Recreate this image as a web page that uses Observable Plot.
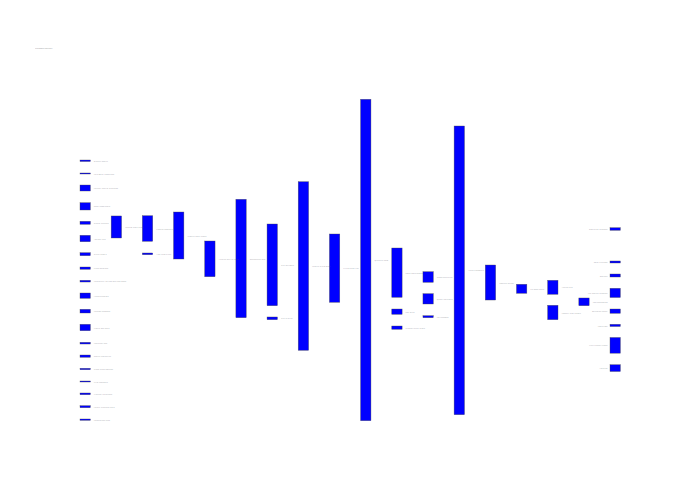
<!DOCTYPE html>
<html>
<head>
<meta charset="utf-8">
<script src="https://cdn.jsdelivr.net/npm/d3@7"></script>
<script src="https://cdn.jsdelivr.net/npm/@observablehq/plot@0.6"></script>
<style>
  html, body { margin: 0; padding: 0; background: #fff; }
  #wrap { position: relative; width: 700px; height: 500px; }
  #title { position: absolute; left: 35px; top: 47px; font: 2.1px "Open Sans", sans-serif; color: #666; opacity: 0.7; white-space: nowrap; }
</style>
</head>
<body>
<div id="wrap">
  <div id="title">Customer journey</div>
  <div id="chart"></div>
</div>
<script>
// Sankey nodes: column index, top and bottom (flow units, 0–100), label
const nodeCol = [
  0,0,0,0,0,0,0,0,0,0,0,0,0,0,0,0,0,0,0,
  1,
  2,2,
  3,
  4,
  5,
  6,6,
  7,
  8,
  9,
  10,10,10,
  11,11,11,
  12,
  13,
  14,
  15,15,
  16,
  17,17,17,17,17,17,17,17
];
const nodeTop = [
  18.89,22.93,26.67,32.17,37.96,42.32,47.73,52.18,56.32,60.27,65.34,70.01,75.61,79.56,83.70,87.65,91.38,95.33,99.47,
  36.30,
  36.22,47.82,
  35.07,
  44.09,
  31.11,
  38.80,67.73,
  25.64,
  41.91,
  0,
  46.27,65.25,70.54,
  53.64,60.48,67.33,
  8.31,
  51.56,
  57.56,
  56.32,64.10,
  61.82,
  39.95,50.31,54.36,58.81,65.25,70.01,74.11,82.58
];
const nodeBottom = [
  19.35,23.24,28.53,34.44,38.89,44.31,48.66,52.89,56.85,61.92,66.49,72.00,76.14,80.27,84.13,87.96,91.91,95.96,99.88,
  43.15,
  44.18,48.35,
  49.69,
  55.20,
  67.95,
  64.22,68.57,
  78.10,
  63.16,
  100,
  61.61,66.90,71.56,
  56.94,63.69,67.95,
  98.13,
  62.45,
  60.36,
  60.67,68.57,
  64.22,
  40.76,50.93,55.29,61.67,66.58,70.69,79.00,84.69
];
const nodeLabel = [
  "Organic Search","Paid social campaigns","Partner referral programs","Email newsletters",
  "Display banners","Affiliate links","Direct visitors","Press mentions",
  "Community forums and blog posts","Video platforms","Podcast sponsors","Mobile app store",
  "Influencer ads","Search retargeting","Trade show contacts","Print catalogue",
  "Webinar registrants","Loyalty program users","Comparison sites",
  "Landing page views",
  "Product catalogue","Help centre visit",
  "Product detail pages",
  "Account sign-up form",
  "Onboarding flow",
  "Trial activated","Trial expired",
  "Feature exploration",
  "Pricing page visit",
  "Qualified leads",
  "Sales conversation","Self-serve","Support ticket raised",
  "Demo scheduled","Quote requested","No response",
  "Active customers",
  "Contract signed",
  "Payment setup",
  "Annual plan","Monthly plan chosen",
  "Implementation",
  "Enterprise accounts","Small business","Startups","Mid-market accounts",
  "Education sector","Non-profit","Public sector clients","Agencies"
];

const LAST_COL = 17;
const NODE_W = 0.332; // node width in column units

const nodes = nodeCol.map((c, i) => ({
  col: c, top: nodeTop[i], bottom: nodeBottom[i], label: nodeLabel[i]
}));

const labelStyle = { fontSize: 2.0, fill: "#556", fillOpacity: 0.55 };

const chart = Plot.plot({
  width: 700,
  height: 500,
  margin: 0,
  style: { background: "#fff", fontFamily: "'Open Sans', sans-serif" },
  x: { domain: [0, LAST_COL], range: [80, 610], axis: null },
  y: { domain: [0, 100], range: [99.3, 420.7], axis: null },
  marks: [
    Plot.rect(nodes, {
      x1: "col",
      x2: d => d.col + NODE_W,
      y1: "top",
      y2: "bottom",
      fill: "blue",
      stroke: "#444",
      strokeOpacity: 0.7,
      strokeWidth: 0.5
    }),
    Plot.text(nodes.filter(d => d.col < LAST_COL), {
      x: d => d.col + NODE_W,
      y: d => (d.top + d.bottom) / 2,
      text: "label",
      textAnchor: "start",
      dx: 3,
      ...labelStyle
    }),
    Plot.text(nodes.filter(d => d.col === LAST_COL), {
      x: "col",
      y: d => (d.top + d.bottom) / 2,
      text: "label",
      textAnchor: "end",
      dx: -3,
      ...labelStyle
    })
  ]
});
document.getElementById("chart").appendChild(chart);
</script>
</body>
</html>
